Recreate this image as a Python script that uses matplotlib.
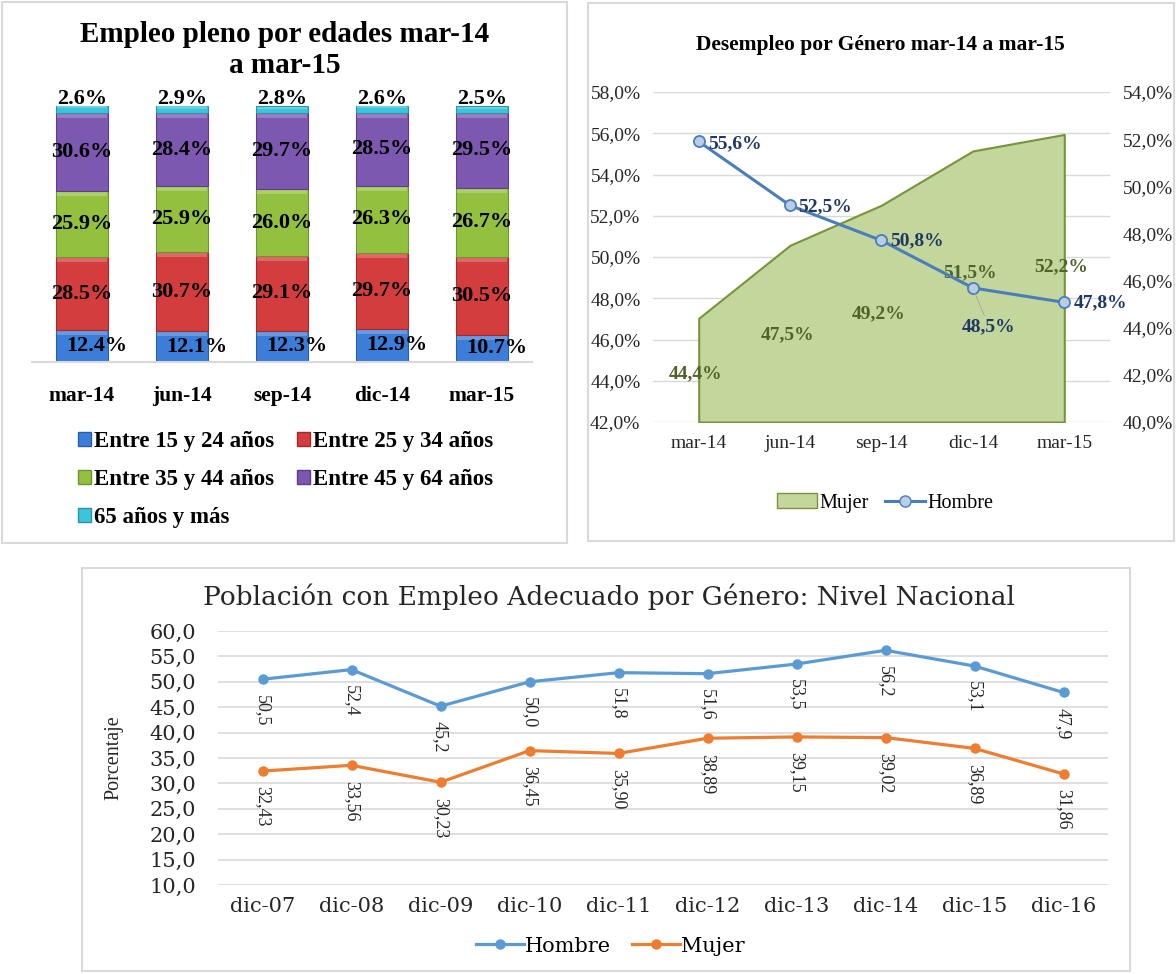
import matplotlib
matplotlib.use("Agg")
import matplotlib.pyplot as plt
import numpy as np
from matplotlib.patches import Rectangle, Patch
from matplotlib.lines import Line2D
from matplotlib.colors import to_rgb

plt.rcParams["font.family"] = ["Liberation Serif", "DejaVu Serif"]

W, H = 1176, 974

# --- Empleo pleno por edades ---
trimestres = ["mar-14", "jun-14", "sep-14", "dic-14", "mar-15"]
edad_15_24 = [12.4, 12.1, 12.3, 12.9, 10.7]
edad_25_34 = [28.5, 30.7, 29.1, 29.7, 30.5]
edad_35_44 = [25.9, 25.9, 26.0, 26.3, 26.7]
edad_45_64 = [30.6, 28.4, 29.7, 28.5, 29.5]
edad_65 = [2.6, 2.9, 2.8, 2.6, 2.5]
grupos = ["Entre 15 y 24 años", "Entre 25 y 34 años", "Entre 35 y 44 años",
          "Entre 45 y 64 años", "65 años y más"]

# --- Desempleo por genero ---
desempleo_hombre = [55.6, 52.5, 50.8, 48.5, 47.8]
desempleo_mujer = [44.4, 47.5, 49.2, 51.5, 52.2]

# --- Empleo adecuado nivel nacional ---
anios = ["dic-07", "dic-08", "dic-09", "dic-10", "dic-11",
         "dic-12", "dic-13", "dic-14", "dic-15", "dic-16"]
adecuado_hombre = [50.5, 52.4, 45.2, 50.0, 51.8, 51.6, 53.5, 56.2, 53.1, 47.9]
adecuado_mujer = [32.43, 33.56, 30.23, 36.45, 35.90, 38.89, 39.15, 39.02, 36.89, 31.86]

PX = 0.72  # pixel -> points at dpi 100


def box(x0, y0, x1, y1):
    return [x0 / W, 1 - y1 / H, (x1 - x0) / W, (y1 - y0) / H]


def coma(v, d=1):
    return f"{v:.{d}f}".replace(".", ",")


def aclarar(c, f):
    r = np.array(to_rgb(c))
    return tuple(r + (1 - r) * f)


fig = plt.figure(figsize=(W / 100, H / 100), dpi=100)

for x0, y0, x1, y1 in [(2, 2, 567, 543), (588, 3, 1174, 541), (82, 568, 1130, 971)]:
    fig.add_artist(Rectangle((x0 / W, 1 - y1 / H), (x1 - x0) / W, (y1 - y0) / H,
                             transform=fig.transFigure, fill=False,
                             edgecolor="#d9d9d9", linewidth=1.5))

# ================= panel 1 =================
ax1 = fig.add_axes(box(32, 106, 532, 362))
x = np.arange(len(trimestres))
series = [edad_15_24, edad_25_34, edad_35_44, edad_45_64, edad_65]
colores = ["#3b7dd8", "#d43d3d", "#93c13f", "#7d58b0", "#3ec3dd"]
bordes = ["#2a5fa8", "#a52a2a", "#6f9430", "#5c3d87", "#2a93a8"]
bottom = np.zeros(len(x))
handles = []
for k, (vals, c, e) in enumerate(zip(series, colores, bordes)):
    vals = np.array(vals)
    ax1.bar(x, vals, 0.52, bottom=bottom, color=c, edgecolor=e, linewidth=0.8)
    # light bevel on the top of each segment
    band = np.minimum(1.8, vals * 0.3)
    ax1.bar(x, band, 0.5, bottom=bottom + vals - band - 0.15, color=aclarar(c, 0.22), linewidth=0)
    handles.append(Patch(facecolor=c, edgecolor=e))
    for i in range(len(x)):
        txt = f"{vals[i]:.1f}%"
        if k == 4:
            ax1.annotate(txt, (x[i], bottom[i] + vals[i]), xytext=(0, 5), textcoords="offset points",
                         ha="center", va="center", fontsize=16, fontweight="bold")
        else:
            dx = 0.15 if k == 0 else 0.0
            ax1.text(x[i] + dx, bottom[i] + vals[i] / 2, txt, ha="center", va="center",
                     fontsize=16, fontweight="bold")
    bottom += vals
ax1.set_xlim(-0.5, 4.5)
ax1.set_ylim(0, 100)
for s in ["left", "right", "top"]:
    ax1.spines[s].set_visible(False)
ax1.spines["bottom"].set_color("#d9d9d9")
ax1.spines["bottom"].set_linewidth(1.5)
ax1.set_yticks([])
ax1.set_xticks(x)
ax1.set_xticklabels(trimestres, fontsize=15.5, fontweight="bold")
ax1.tick_params(axis="x", length=0, pad=17)

fig.text(285 / W, 1 - 50 / H, "Empleo pleno por edades mar-14\na mar-15", ha="center", va="center",
         fontsize=21, fontweight="bold", linespacing=1.15)

orden = [0, 2, 4, 1, 3]
fig.legend([handles[i] for i in orden], [grupos[i] for i in orden], loc="upper left",
           bbox_to_anchor=(78 / W, 1 - 431 / H), ncol=2, frameon=False,
           prop={"size": 16.5, "weight": "bold"}, handlelength=0.55, handleheight=0.55,
           handletextpad=0.15, columnspacing=1.0, labelspacing=0.74,
           borderaxespad=0, borderpad=0)

# ================= panel 2 =================
axg = fig.add_axes(box(653, 92, 1110, 422))
axg.set_xlim(-0.5, 4.5)
axg.set_ylim(42, 58)
axg.set_yticks(np.arange(42, 58.1, 2))
axg.set_yticklabels([coma(v) + "%" for v in np.arange(42, 58.1, 2)])
axg.grid(axis="y", color="#d9d9d9", linewidth=1)
axg.set_axisbelow(True)
axg.set_xticks(x)
axg.set_xticklabels(trimestres)
axg.tick_params(length=0, labelsize=14, colors="#262626")
axg.tick_params(axis="y", pad=9)
axg.tick_params(axis="x", pad=9)

axm = axg.twinx()
axm.set_ylim(40, 54)
axm.set_yticks(np.arange(40, 54.1, 2))
axm.set_yticklabels([coma(v) + "%" for v in np.arange(40, 54.1, 2)])
axm.tick_params(length=0, labelsize=14, colors="#262626", pad=9)
axm.fill_between(x, desempleo_mujer, 40, facecolor="#c3d69b", edgecolor="#77933c", linewidth=1.5)

axh = axg.twinx()
axh.set_ylim(42, 58)
axh.set_yticks([])
axh.plot(x, desempleo_hombre, color="#4a7ebb", linewidth=2.2, marker="o", markersize=8,
         markerfacecolor="#b9cde5", markeredgecolor="#4a7ebb", markeredgewidth=1.3)

for a in (axg, axm, axh):
    for s in a.spines.values():
        s.set_visible(False)

hombre_dx = [9, 8, 9, 16, 9]
hombre_dy = [-2, -1, 0, -39, 0]
for i, v in enumerate(desempleo_hombre):
    if i == 3:
        axh.annotate(coma(v) + "%", (x[i], v), xytext=(hombre_dx[i] * PX, hombre_dy[i] * PX),
                     textcoords="offset points", ha="center", va="center", fontsize=14,
                     fontweight="bold", color="#1f3864",
                     arrowprops=dict(arrowstyle="-", color="#a6a6a6", lw=0.6, shrinkA=0, shrinkB=4))
    else:
        axh.annotate(coma(v) + "%", (x[i], v), xytext=(hombre_dx[i] * PX, hombre_dy[i] * PX),
                     textcoords="offset points", ha="left", va="center", fontsize=14,
                     fontweight="bold", color="#1f3864")

mujer_dy = [55, 90, 109, 122, 132]
for i, v in enumerate(desempleo_mujer):
    axm.annotate(coma(v) + "%", (x[i], v), xytext=(-3 * PX, -mujer_dy[i] * PX),
                 textcoords="offset points", ha="center", va="center", fontsize=14,
                 fontweight="bold", color="#4f6228")

fig.text(880 / W, 1 - 45 / H, "Desempleo por Género mar-14 a mar-15", ha="center", va="center",
         fontsize=15.5, fontweight="bold")

fig.legend([Patch(facecolor="#c3d69b", edgecolor="#77933c"),
            Line2D([], [], color="#4a7ebb", linewidth=2.2, marker="o", markersize=8,
                   markerfacecolor="#b9cde5", markeredgecolor="#4a7ebb")],
           ["Mujer", "Hombre"], loc="center", bbox_to_anchor=(885 / W, 1 - 503 / H), ncol=2,
           frameon=False, fontsize=14.5, handlelength=2.0, handletextpad=0.1, columnspacing=0.8,
           borderpad=0, borderaxespad=0)

# ================= panel 3 =================
serif3 = "DejaVu Serif"
ax3 = fig.add_axes(box(218, 631, 1108, 885))
x3 = np.arange(len(anios))
lh, = ax3.plot(x3, adecuado_hombre, color="#5b9bd5", linewidth=2.3, marker="o", markersize=6.5)
lm, = ax3.plot(x3, adecuado_mujer, color="#ed7d31", linewidth=2.3, marker="o", markersize=6.5)
ax3.set_xlim(-0.5, 9.5)
ax3.set_ylim(10, 60)
ticks3 = np.arange(10, 60.1, 5)
ax3.set_yticks(ticks3)
ax3.set_yticklabels([coma(v) for v in ticks3], family=serif3)
ax3.set_xticks(x3)
ax3.set_xticklabels(anios, family=serif3)
ax3.tick_params(length=0, labelsize=15, colors="#262626")
ax3.tick_params(axis="y", pad=16)
ax3.tick_params(axis="x", pad=9)
ax3.grid(axis="y", color="#d9d9d9", linewidth=1.2)
ax3.set_axisbelow(True)
for s in ax3.spines.values():
    s.set_visible(False)
ax3.set_ylabel("Porcentaje", fontsize=14.5, color="#262626")
ax3.yaxis.set_label_coords(-0.106, 0.5)

for i in range(len(anios)):
    ax3.annotate(coma(adecuado_hombre[i], 1), (x3[i], adecuado_hombre[i]), xytext=(0, -11),
                 textcoords="offset points", rotation=270, ha="center", va="top",
                 fontsize=13, color="#262626")
    ax3.annotate(coma(adecuado_mujer[i], 2), (x3[i], adecuado_mujer[i]), xytext=(0, -11),
                 textcoords="offset points", rotation=270, ha="center", va="top",
                 fontsize=13, color="#262626")

fig.text(609 / W, 1 - 597 / H, "Población con Empleo Adecuado por Género: Nivel Nacional",
         ha="center", va="center", fontsize=19, family=serif3, color="#262626")

fig.legend([lh, lm], ["Hombre", "Mujer"], loc="center", bbox_to_anchor=(610 / W, 1 - 946 / H),
           ncol=2, frameon=False, prop={"family": serif3, "size": 15}, handlelength=2.3,
           handletextpad=0.05, columnspacing=1.0, borderpad=0, borderaxespad=0)

fig.savefig("out.png", dpi=100)
